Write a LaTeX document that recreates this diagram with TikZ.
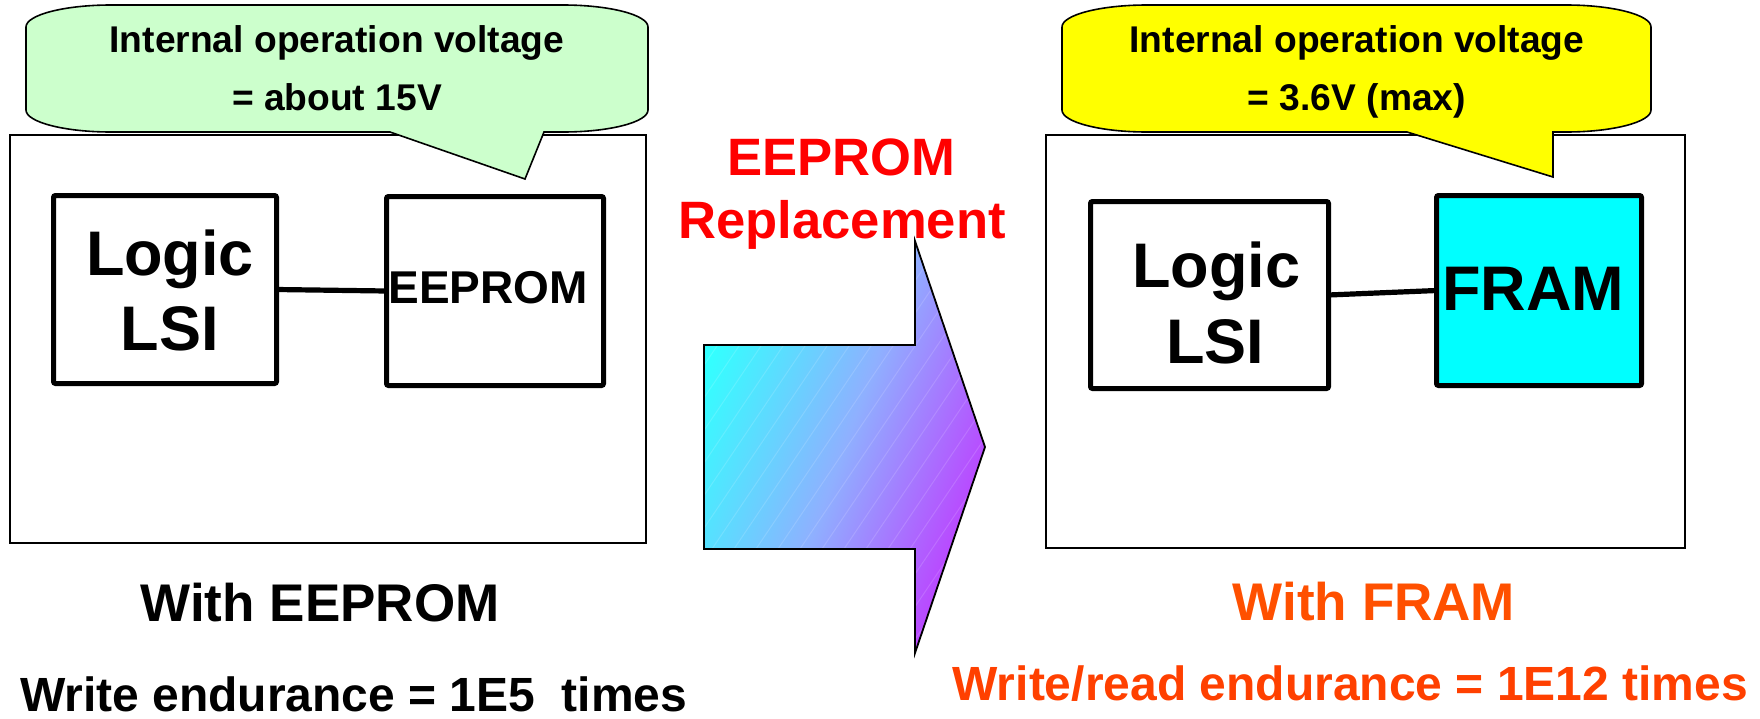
\documentclass[tikz,border=0pt]{standalone}
\usepackage{fontspec}
\setmainfont{Liberation Sans}
\definecolor{callgreen}{HTML}{CCFFCC}
\definecolor{callyellow}{HTML}{FFFF00}
\definecolor{framcyan}{HTML}{00FFFF}
\definecolor{redtxt}{HTML}{FF0000}
\definecolor{orangeA}{HTML}{FF5000}
\definecolor{orangeB}{HTML}{FF4000}
\definecolor{arrowA}{HTML}{33FFFF}
\definecolor{arrowM}{HTML}{8FB0FF}
\definecolor{arrowB}{HTML}{C038FF}
\begin{document}
\begin{tikzpicture}[x=0.5pt,y=-0.5pt,
  outerbox/.style={draw=black, line width=0.7pt},
  chip/.style={draw=black, line width=2.5pt, rounded corners=1pt, inner sep=0pt, outer sep=0pt},
  wire/.style={draw=black, line width=2.6pt},
  callout/.style={draw=black, line width=0.8pt},
  txt/.style={inner sep=0pt, outer sep=0pt, anchor=base},
  calltxt/.style={txt, font=\fontsize{18.6pt}{22pt}\selectfont\bfseries},
  chiptxt/.style={txt, font=\fontsize{31.5pt}{36pt}\selectfont\bfseries},
  smallchiptxt/.style={txt, font=\fontsize{23pt}{27pt}\selectfont\bfseries},
  midtxt/.style={txt, font=\fontsize{26.3pt}{30pt}\selectfont\bfseries, text=redtxt},
  captxt/.style={txt, font=\fontsize{26.5pt}{30pt}\selectfont\bfseries},
  endtxt/.style={txt, font=\fontsize{24pt}{28pt}\selectfont\bfseries}
]
\useasboundingbox (0,0) rectangle (1760,718);

% outer boxes
\draw[outerbox] (10,135) rectangle (646,543);
\draw[outerbox] (1046,135) rectangle (1685,548);

% chips
\node[chip, minimum width=111.5pt, minimum height=94pt] (llsi) at (165,289.5) {};
\node[chip, minimum width=108.5pt, minimum height=94.5pt] (eep) at (495,291) {};
\node[chip, minimum width=119pt, minimum height=93.5pt] (rlsi) at (1209.5,295) {};
\node[chip, fill=framcyan, minimum width=102.5pt, minimum height=95pt] (fram) at (1539,290.5) {};

\draw[wire] (llsi.east) -- (eep.west);
\draw[wire] (rlsi.east) -- (fram.west);

\node[chiptxt] (llogic) at (170,275) {Logic};
\node[chiptxt] (llsitxt) at (170,350) {LSI};
\node[smallchiptxt] (eeptxt) at (488,303) {EEPROM};
\node[chiptxt] (rlogic) at (1216,287) {Logic};
\node[chiptxt] (rlsitxt) at (1215,363) {LSI};
\node[chiptxt] (framtxt) at (1533,310) {FRAM};

% callouts
\draw[callout, fill=callgreen] (111,5) -- (563,5) .. controls (609.75,5) and (648,14.9) .. (648,27)
  -- (648,110) .. controls (648,122.1) and (609.75,132) .. (563,132)
  -- (544,132) -- (525,179) -- (390,132) -- (111,132)
  .. controls (64.25,132) and (26,122.1) .. (26,110)
  -- (26,27) .. controls (26,14.9) and (64.25,5) .. (111,5) -- cycle;
\draw[callout, fill=callyellow] (1147,5) -- (1566,5) .. controls (1612.75,5) and (1651,14.9) .. (1651,27)
  -- (1651,110) .. controls (1651,122.1) and (1612.75,132) .. (1566,132)
  -- (1553,132) -- (1553,177) -- (1407,132) -- (1147,132)
  .. controls (1100.25,132) and (1062,122.1) .. (1062,110)
  -- (1062,27) .. controls (1062,14.9) and (1100.25,5) .. (1147,5) -- cycle;

\node[calltxt] (lc1) at (337,52) {Internal operation voltage};
\node[calltxt] (lc2) at (337,110) {= about 15V};
\node[calltxt] (rc1) at (1357,52) {Internal operation voltage};
\node[calltxt] (rc2) at (1357,110) {= 3.6V (max)};

% big arrow
\shade[top color=arrowA, bottom color=arrowB, middle color=arrowM, shading angle=70]
  (704,345) -- (915,345) -- (915,241) -- (985,447) -- (915,653) -- (915,549) -- (704,549) -- cycle;
\begin{scope}
  \clip (704,345) -- (915,345) -- (915,241) -- (985,447) -- (915,653) -- (915,549) -- (704,549) -- cycle;
  \foreach \i in {0,...,28} {
    \draw[white, opacity=0.14, line width=0.5pt] (390+\i*22,700) -- ++(320,-474);
  }
\end{scope}
\draw[line width=0.9pt, line join=miter]
  (704,345) -- (915,345) -- (915,241) -- (985,447) -- (915,653) -- (915,549) -- (704,549) -- cycle;

\node[midtxt] (mid1) at (841,175) {EEPROM};
\node[midtxt] (mid2) at (842,238) {Replacement};

% captions
\node[captxt] (capl) at (320,621) {With EEPROM};
\node[captxt, text=orangeA] (capr) at (1374,620) {With FRAM};
\node[endtxt, anchor=base west] (endl) at (20,711) {Write endurance = 1E5\ \ times};
\node[endtxt, anchor=base east, text=orangeB] (endr) at (1748,700) {Write/read endurance = 1E12 times};
\end{tikzpicture}
\end{document}
